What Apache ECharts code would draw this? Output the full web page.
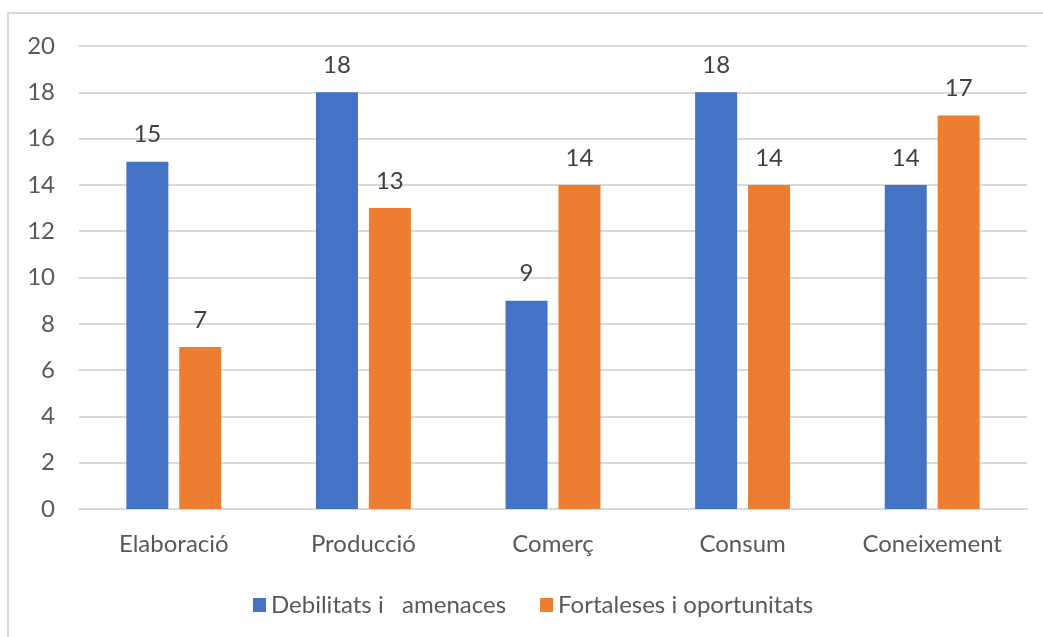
<!DOCTYPE html>
<html>
<head>
<meta charset="utf-8">
<script src="https://cdn.jsdelivr.net/npm/echarts@6/dist/echarts.min.js"></script>
<style>html,body{margin:0;padding:0;background:#fff}#c{width:1043px;height:637px}</style>
</head>
<body>
<div id="c"></div>
<script>
const categories = ['Elaboració', 'Producció', 'Comerç', 'Consum', 'Coneixement'];
const seriesNames = ['Debilitats i   amenaces', 'Fortaleses i oportunitats'];
const debilitats = [15, 18, 9, 18, 14];
const fortaleses = [7, 13, 14, 14, 17];
const yTicks = [0, 2, 4, 6, 8, 10, 12, 14, 16, 18, 20];

const FONT = 'Lato';
const FS = 24;
const chart = echarts.init(document.getElementById('c'));
const labelCfg = {show: true, position: 'top', distance: 15, color: '#404040', fontSize: FS, fontFamily: FONT};
chart.setOption({
  animation: false,
  backgroundColor: '#fff',
  graphic: [{type: 'rect', shape: {x: 8, y: 13, width: 1100, height: 700}, style: {fill: 'none', stroke: '#d9d9d9', lineWidth: 2}, silent: true}],
  grid: {left: 79, right: 16, top: 46, bottom: 128},
  legend: {
    top: 588, left: 248, itemWidth: 13, itemHeight: 14, itemGap: 34,
    icon: 'rect',
    textStyle: {color: '#595959', fontSize: FS, fontFamily: FONT},
    data: seriesNames
  },
  xAxis: {
    type: 'category', data: categories,
    axisLine: {show: true, lineStyle: {color: '#d9d9d9', width: 2}},
    axisTick: {show: false},
    axisLabel: {color: '#595959', fontSize: FS, fontFamily: FONT, margin: 23}
  },
  yAxis: {
    type: 'value', min: yTicks[0], max: yTicks[yTicks.length - 1], interval: 2,
    axisLine: {show: false}, axisTick: {show: false},
    axisLabel: {color: '#595959', fontSize: FS, fontFamily: FONT, margin: 24},
    splitLine: {lineStyle: {color: '#d9d9d9', width: 2}}
  },
  series: [
    {name: seriesNames[0], type: 'bar', data: debilitats, barWidth: 42, barGap: '26%', itemStyle: {color: '#4472c4'}, label: labelCfg},
    {name: seriesNames[1], type: 'bar', data: fortaleses, barWidth: 42, itemStyle: {color: '#ed7d31'}, label: labelCfg}
  ]
});
</script>
</body>
</html>
